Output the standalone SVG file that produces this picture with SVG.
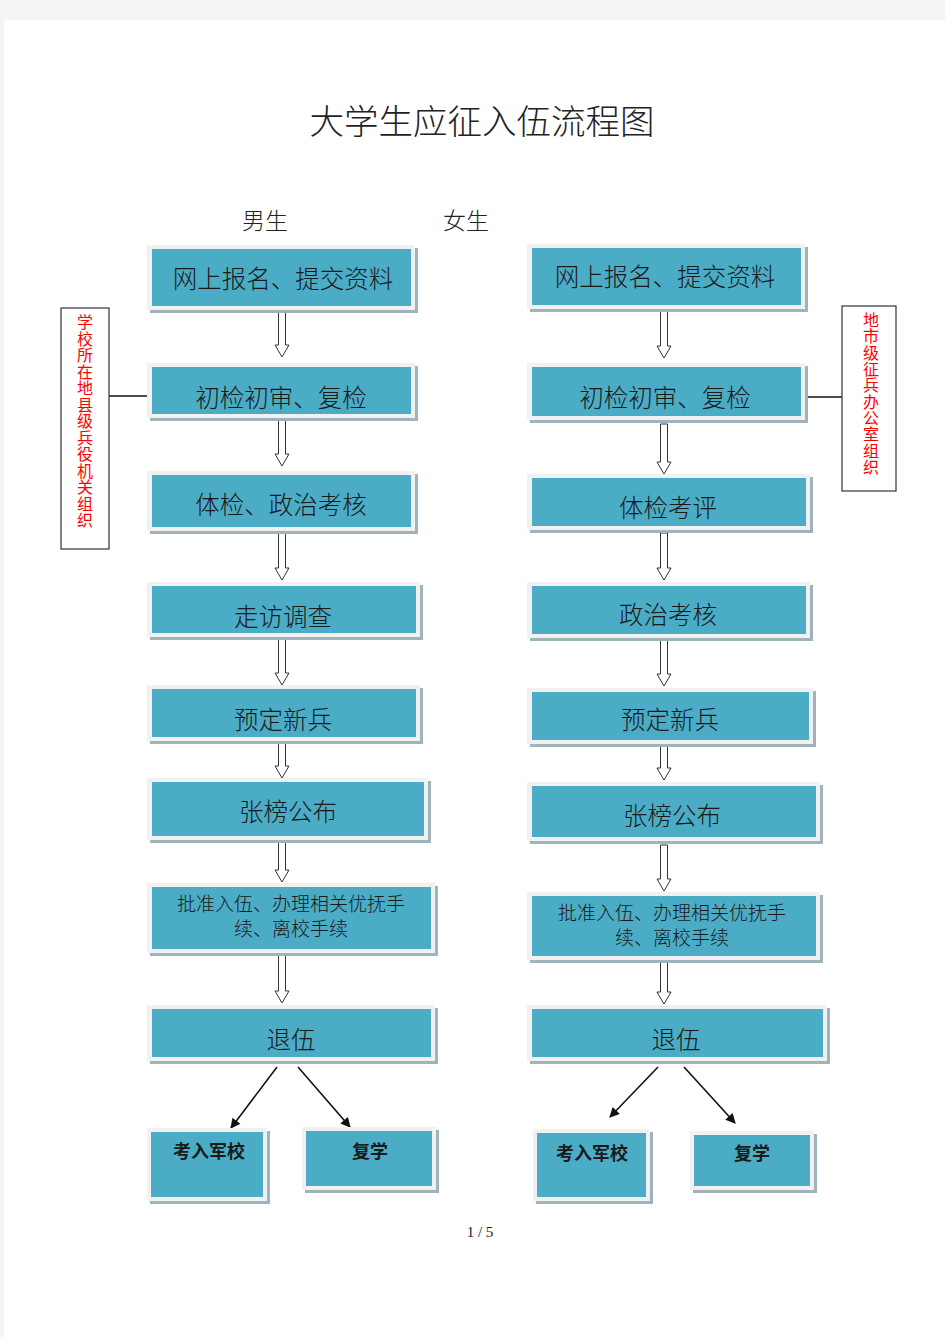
<svg xmlns="http://www.w3.org/2000/svg" width="945" height="1337" viewBox="0 0 945 1337">
<defs>
<style>
.sh{fill:#9fb3bc}
.ou{fill:#f1f1f1}
.in{fill:#4bacc6}
.t{font-family:"Noto Sans CJK SC","Liberation Serif",serif;fill:#1a1a1a;text-anchor:middle}
.t24{font-size:24.5px;font-weight:300}
.t18{font-size:19px;font-weight:300}
.tb{font-size:18px;font-weight:bold}
.side{fill:#fff;stroke:#333;stroke-width:1.2}
.red{font-family:"Noto Sans CJK SC",sans-serif;font-size:16px;fill:#ff0000;writing-mode:vertical-rl}
.ba{fill:#fff;stroke:#333;stroke-width:1}
.ln{stroke:#111;stroke-width:1.6;fill:none}
</style>
<marker id="ah" viewBox="0 0 10 10" refX="9" refY="5" markerWidth="11" markerHeight="10" orient="auto" markerUnits="userSpaceOnUse">
<path d="M0,0 L10,5 L0,10 Z" fill="#111"/>
</marker>
</defs>
<rect x="0" y="0" width="945" height="1337" fill="#f4f4f4"/>
<rect x="4" y="20" width="941" height="1317" fill="#fff"/>

<text x="482" y="134" font-family="Noto Sans CJK SC,Liberation Serif,serif" font-size="34.5" fill="#222" text-anchor="middle" font-weight="300">大学生应征入伍流程图</text>
<text x="265" y="229" font-family="Noto Sans CJK SC,serif" font-size="23" fill="#222" text-anchor="middle" font-weight="300">男生</text>
<text x="466" y="229" font-family="Noto Sans CJK SC,serif" font-size="23" fill="#222" text-anchor="middle" font-weight="300">女生</text>

<g id="connectors">
<line class="ln" x1="109" y1="396" x2="147" y2="396" stroke-width="1.2"/>
<line class="ln" x1="807" y1="397" x2="842" y2="397" stroke-width="1.2"/>
<path class="ba" d="M278.5,311 V345 H275 L282,357 L289,345 H285.5 V311 Z"/>
<path class="ba" d="M278.5,420 V454 H275 L282,466 L289,454 H285.5 V420 Z"/>
<path class="ba" d="M278.5,527 V568 H275 L282,580 L289,568 H285.5 V527 Z"/>
<path class="ba" d="M278.5,636 V673 H275 L282,685 L289,673 H285.5 V636 Z"/>
<path class="ba" d="M278.5,740 V766 H275 L282,778 L289,766 H285.5 V740 Z"/>
<path class="ba" d="M278.5,838 V870 H275 L282,882 L289,870 H285.5 V838 Z"/>
<path class="ba" d="M278.5,948 V991 H275 L282,1003 L289,991 H285.5 V948 Z"/>
<path class="ba" d="M660.5,310 V346 H657 L664,358 L671,346 H667.5 V310 Z"/>
<path class="ba" d="M660.5,424 V462 H657 L664,474 L671,462 H667.5 V424 Z"/>
<path class="ba" d="M660.5,533 V568 H657 L664,580 L671,568 H667.5 V533 Z"/>
<path class="ba" d="M660.5,636 V674 H657 L664,686 L671,674 H667.5 V636 Z"/>
<path class="ba" d="M660.5,744 V768 H657 L664,780 L671,768 H667.5 V744 Z"/>
<path class="ba" d="M660.5,845 V879 H657 L664,891 L671,879 H667.5 V845 Z"/>
<path class="ba" d="M660.5,955 V992 H657 L664,1004 L671,992 H667.5 V955 Z"/>
<line class="ln" x1="277" y1="1067" x2="231" y2="1128" marker-end="url(#ah)"/>
<line class="ln" x1="298" y1="1067" x2="350" y2="1127" marker-end="url(#ah)"/>
<line class="ln" x1="658" y1="1067" x2="610" y2="1117" marker-end="url(#ah)"/>
<line class="ln" x1="684" y1="1067" x2="735" y2="1123" marker-end="url(#ah)"/>
</g>

<g id="side-left">
<rect class="side" x="61" y="308" width="48" height="241"/>
<text class="red" x="85" y="314" letter-spacing="0.5">学校所在地县级兵役机关组织</text>
</g>
<g id="side-right">
<rect class="side" x="842" y="306" width="54" height="185"/>
<text class="red" x="871" y="312" letter-spacing="0.33">地市级征兵办公室组织</text>
</g>

<g id="L1"><rect class="sh" x="150" y="248" width="268" height="65"/><rect class="ou" x="147" y="245" width="268" height="65"/><rect class="in" x="152" y="249" width="259" height="57"/><text class="t t24" x="283" y="288">网上报名、提交资料</text></g>
<g id="L2"><rect class="sh" x="150" y="366" width="268" height="55"/><rect class="ou" x="147" y="363" width="268" height="55"/><rect class="in" x="152" y="367" width="259" height="47"/><text class="t t24" x="281" y="407">初检初审、复检</text></g>
<g id="L3"><rect class="sh" x="150" y="474" width="268" height="60"/><rect class="ou" x="147" y="471" width="268" height="60"/><rect class="in" x="152" y="475" width="259" height="52"/><text class="t t24" x="281" y="514">体检、政治考核</text></g>
<g id="L4"><rect class="sh" x="150" y="585" width="273" height="55"/><rect class="ou" x="147" y="582" width="273" height="55"/><rect class="in" x="152" y="586" width="264" height="47"/><text class="t t24" x="283" y="626">走访调查</text></g>
<g id="L5"><rect class="sh" x="150" y="688" width="273" height="56"/><rect class="ou" x="147" y="685" width="273" height="56"/><rect class="in" x="152" y="689" width="264" height="48"/><text class="t t24" x="283" y="729">预定新兵</text></g>
<g id="L6"><rect class="sh" x="150" y="781" width="281" height="62"/><rect class="ou" x="147" y="778" width="281" height="62"/><rect class="in" x="152" y="782" width="272" height="54"/><text class="t t24" x="288" y="821">张榜公布</text></g>
<g id="L7"><rect class="sh" x="150" y="886" width="288" height="70"/><rect class="ou" x="147" y="883" width="288" height="70"/><rect class="in" x="152" y="887" width="279" height="62"/><text class="t t18" x="291" y="911">批准入伍、办理相关优抚手</text><text class="t t18" x="291" y="936">续、离校手续</text></g>
<g id="L8"><rect class="sh" x="150" y="1008" width="288" height="56"/><rect class="ou" x="147" y="1005" width="288" height="56"/><rect class="in" x="152" y="1009" width="279" height="48"/><text class="t t24" x="291" y="1049">退伍</text></g>
<g id="L9"><rect class="sh" x="150" y="1131" width="120" height="73"/><rect class="ou" x="147" y="1128" width="120" height="73"/><rect class="in" x="151" y="1132" width="112" height="65"/><text class="t tb" x="209" y="1158">考入军校</text></g>
<g id="L10"><rect class="sh" x="305" y="1130" width="134" height="63"/><rect class="ou" x="302" y="1127" width="134" height="63"/><rect class="in" x="306" y="1131" width="126" height="55"/><text class="t tb" x="370" y="1158">复学</text></g>

<g id="R1"><rect class="sh" x="530" y="247" width="278" height="65"/><rect class="ou" x="527" y="244" width="278" height="65"/><rect class="in" x="532" y="248" width="269" height="57"/><text class="t t24" x="665" y="286">网上报名、提交资料</text></g>
<g id="R2"><rect class="sh" x="530" y="366" width="278" height="57"/><rect class="ou" x="527" y="363" width="278" height="57"/><rect class="in" x="532" y="367" width="269" height="49"/><text class="t t24" x="665" y="407">初检初审、复检</text></g>
<g id="R3"><rect class="sh" x="530" y="477" width="283" height="56"/><rect class="ou" x="527" y="474" width="283" height="56"/><rect class="in" x="532" y="478" width="274" height="48"/><text class="t t24" x="668" y="517">体检考评</text></g>
<g id="R4"><rect class="sh" x="530" y="585" width="283" height="56"/><rect class="ou" x="527" y="582" width="283" height="56"/><rect class="in" x="532" y="586" width="274" height="48"/><text class="t t24" x="668" y="624">政治考核</text></g>
<g id="R5"><rect class="sh" x="530" y="691" width="286" height="56"/><rect class="ou" x="527" y="688" width="286" height="56"/><rect class="in" x="532" y="692" width="277" height="48"/><text class="t t24" x="670" y="729">预定新兵</text></g>
<g id="R6"><rect class="sh" x="530" y="785" width="293" height="59"/><rect class="ou" x="527" y="782" width="293" height="59"/><rect class="in" x="532" y="786" width="284" height="51"/><text class="t t24" x="672" y="825">张榜公布</text></g>
<g id="R7"><rect class="sh" x="530" y="895" width="293" height="68"/><rect class="ou" x="527" y="892" width="293" height="68"/><rect class="in" x="532" y="896" width="284" height="60"/><text class="t t18" x="672" y="920">批准入伍、办理相关优抚手</text><text class="t t18" x="672" y="945">续、离校手续</text></g>
<g id="R8"><rect class="sh" x="530" y="1008" width="300" height="56"/><rect class="ou" x="527" y="1005" width="300" height="56"/><rect class="in" x="532" y="1009" width="291" height="48"/><text class="t t24" x="676" y="1049">退伍</text></g>
<g id="R9"><rect class="sh" x="536" y="1132" width="117" height="72"/><rect class="ou" x="533" y="1129" width="117" height="72"/><rect class="in" x="537" y="1133" width="109" height="64"/><text class="t tb" x="592" y="1160">考入军校</text></g>
<g id="R10"><rect class="sh" x="693" y="1134" width="124" height="59"/><rect class="ou" x="690" y="1131" width="124" height="59"/><rect class="in" x="694" y="1135" width="116" height="51"/><text class="t tb" x="752" y="1160">复学</text></g>

<text x="480" y="1237" font-family="Liberation Serif,serif" font-size="15" fill="#222" text-anchor="middle">1 / 5</text>
</svg>
